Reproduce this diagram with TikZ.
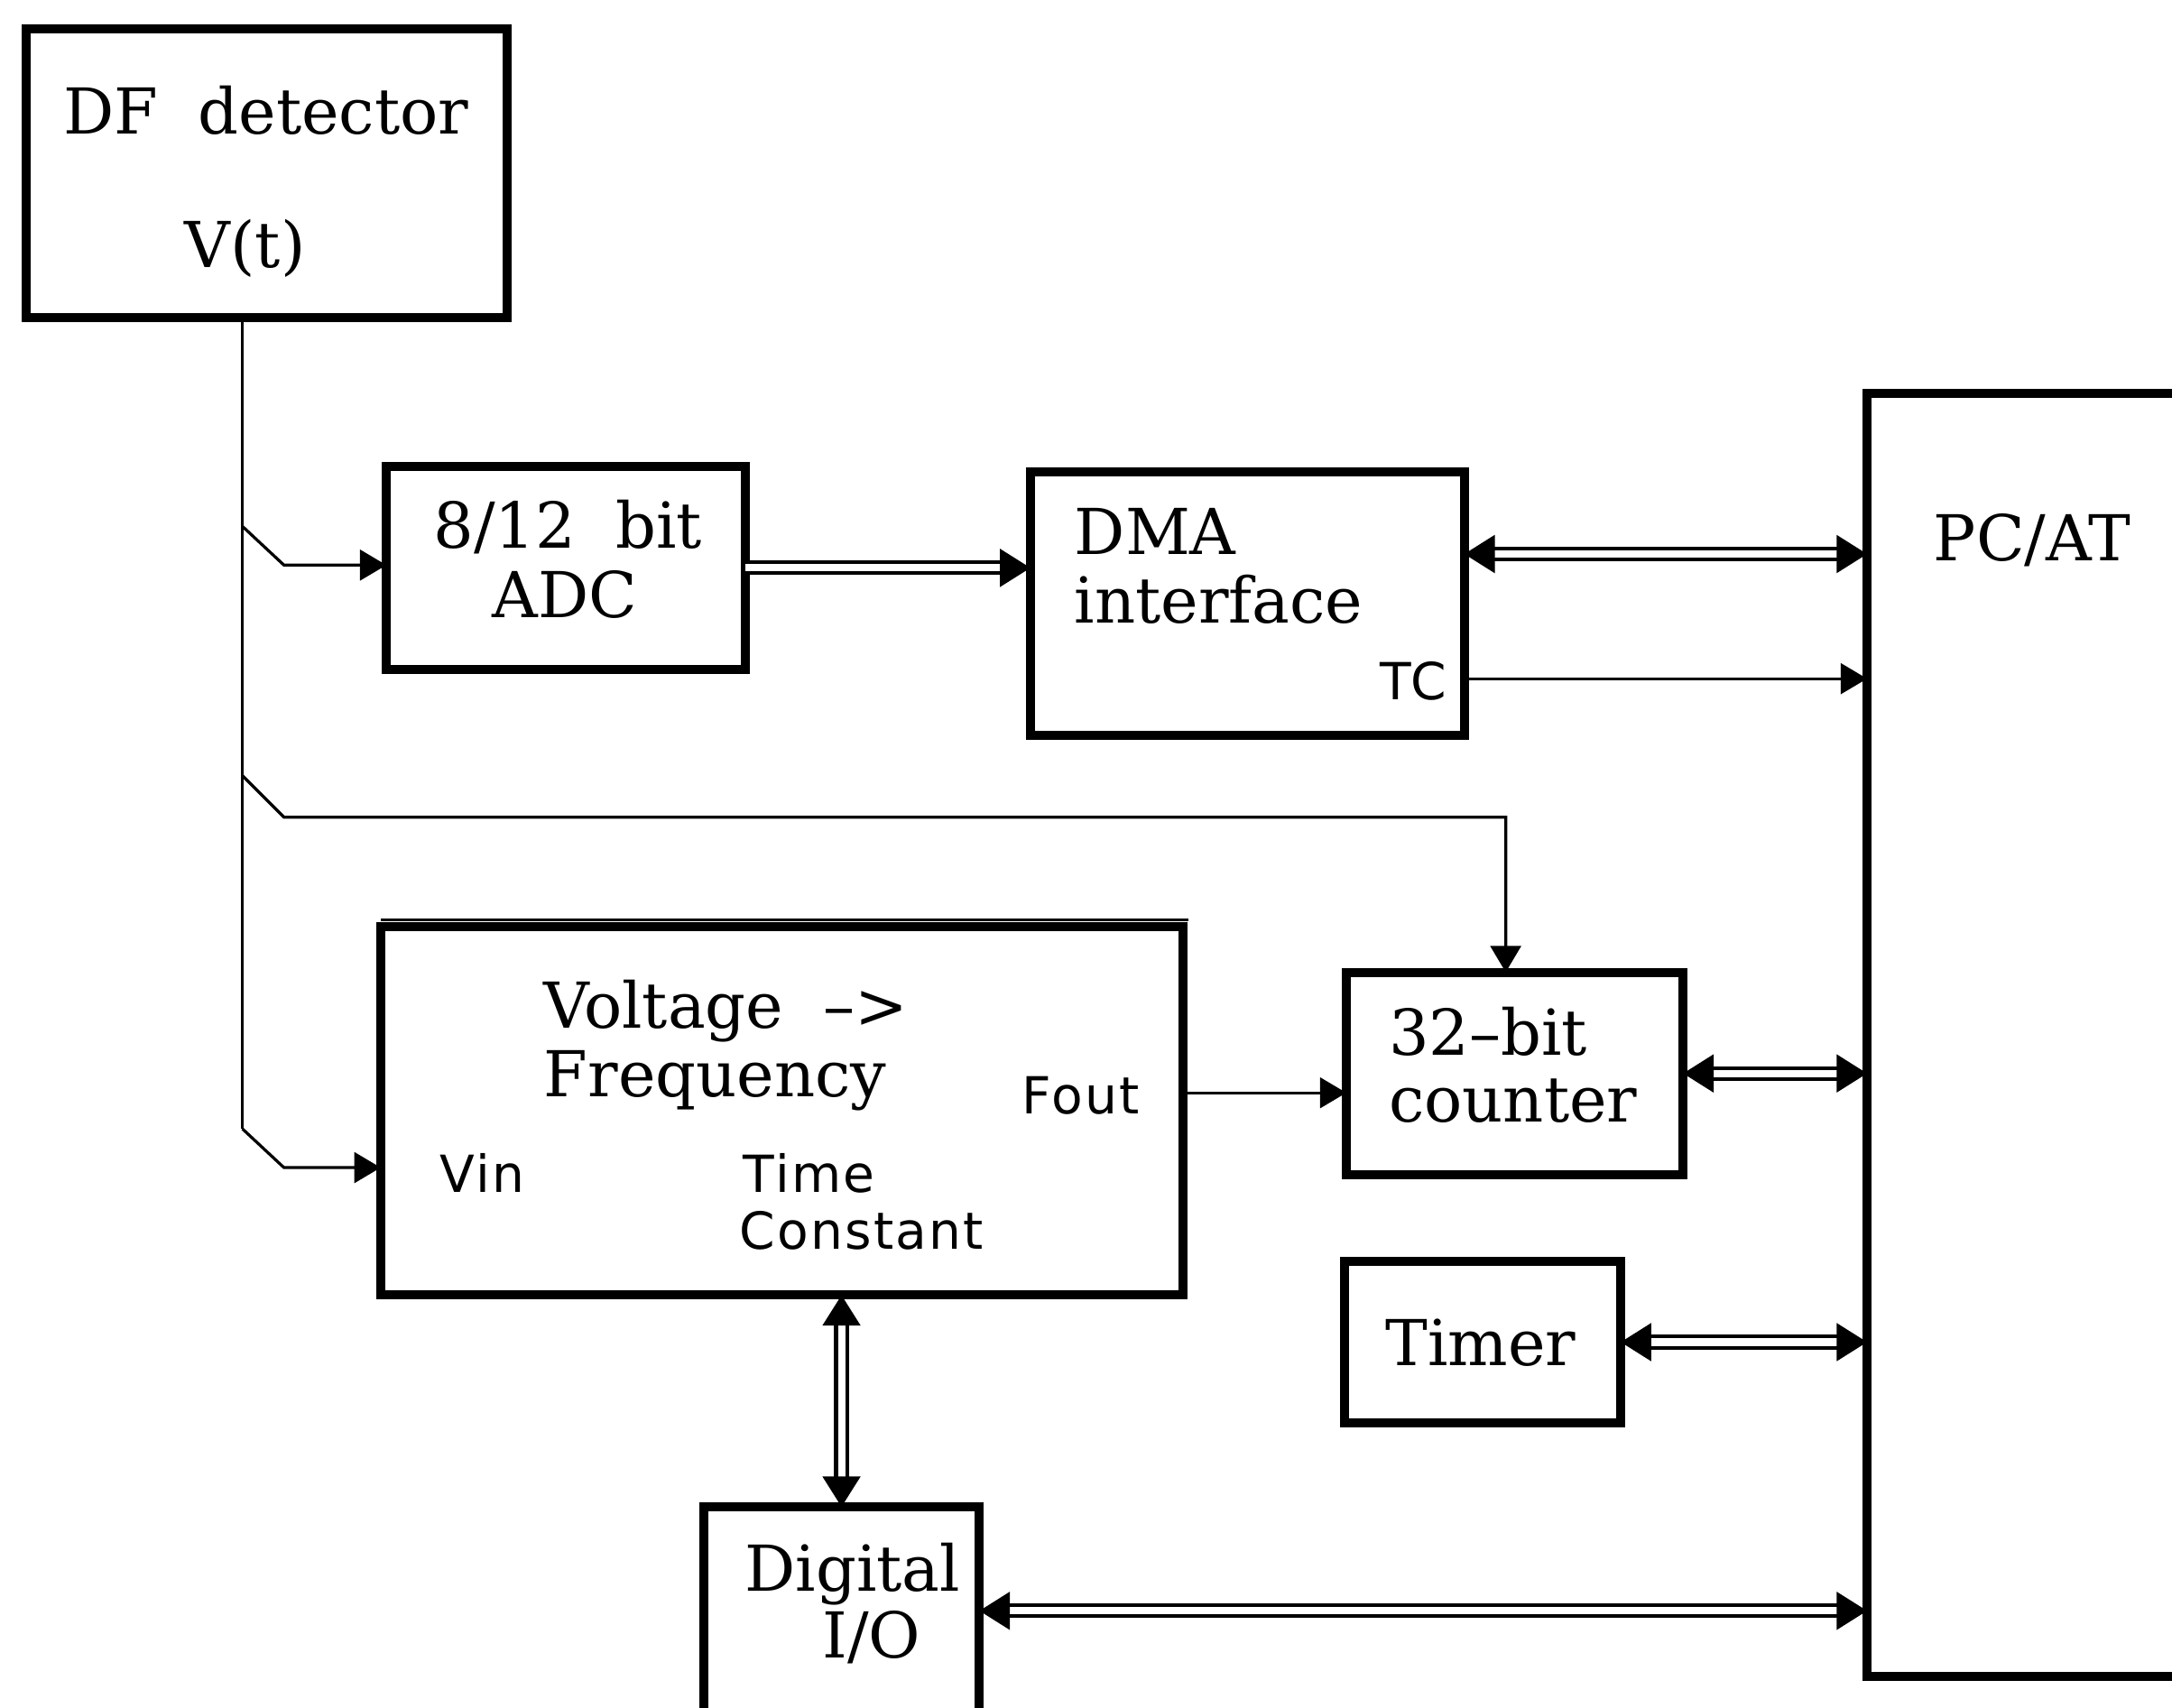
\documentclass[tikz,border=0pt]{standalone}
\usepackage{fontspec}
\setmainfont{DejaVu Serif}
\newfontfamily\labfont[LetterSpace=4]{DejaVu Sans}
\usetikzlibrary{arrows.meta}

\begin{document}
\begin{tikzpicture}[x=0.01cm,y=-0.01cm,
  box/.style={draw, line width=1.85pt, inner sep=0pt, outer sep=0pt},
  big/.style={inner sep=0pt, font=\fontsize{13}{15}\selectfont},
  small/.style={inner sep=0pt, font=\labfont\fontsize{10.5}{12}\selectfont},
  sig/.style={line width=0.6pt, -{Triangle[length=0.19cm,width=0.22cm]}},
  bus/.style={line width=0.75pt, double, double distance=1.5pt},
  busone/.style={bus, -{Triangle[length=0.22cm,width=0.27cm]}},
  bustwo/.style={bus, {Triangle[length=0.22cm,width=0.27cm]}-{Triangle[length=0.22cm,width=0.27cm]}}]

% page frame
\fill[white] (0,0) rectangle (1568,1233);
\clip (0,0) rectangle (1568,1233);

% blocks
\node[box, minimum width=3.47cm, minimum height=2.08cm] (df)  at (192.5,125) {};
\node[box, minimum width=2.59cm, minimum height=1.46cm] (adc) at (408.5,410) {};
\node[box, minimum width=3.13cm, minimum height=1.90cm] (dma) at (900.5,436) {};
\node[box, minimum width=3.52cm, minimum height=9.26cm] (pc)  at (1524,747) {};
\node[box, minimum width=5.79cm, minimum height=2.66cm] (vf)  at (564.5,802) {};
\node[box, minimum width=2.43cm, minimum height=1.46cm] (cnt) at (1093.5,775) {};
\node[box, minimum width=1.99cm, minimum height=1.16cm] (tmr) at (1070.5,969) {};
\node[box, minimum width=1.99cm, minimum height=1.92cm] (dio) at (607.5,1184) {};
\draw[line width=0.5pt] ([yshift=0.05cm]vf.north west) -- ([xshift=0.04cm,yshift=0.05cm]vf.north east);

% block texts
\node[big, anchor=base] (dft) at (192,97) {DF\ \ detector};
\node[big, anchor=base] (vt)  at (177,193) {V(t)};
\node[big, anchor=base] (adct1) at (410,396) {8/12\ \ bit};
\node[big, anchor=base] (adct2) at (408,446) {ADC};
\node[big, anchor=base west] (dmat1) at (775,400) {DMA};
\node[big, anchor=base west] (dmat2) at (775,450) {interface};
\node[small, anchor=base east] (tc) at (1045,505) {TC};
\node[big, anchor=base] (pct) at (1467,405) {PC/AT};
\node[big, anchor=base west] (vft1) at (392,742) {Voltage\ \ \textendash>};
\node[big, anchor=base west] (vft2) at (392,792) {Frequency};
\node[small, anchor=base west] (fout) at (737,804) {Fout};
\node[small, anchor=base west] (vin) at (317,861) {Vin};
\node[small, anchor=base west] (tc1) at (536,861) {Time};
\node[small, anchor=base west] (tc2) at (533,902) {Constant};
\node[big, anchor=base west] (cntt1) at (1002,762) {32\textendash bit};
\node[big, anchor=base west] (cntt2) at (1002,810) {counter};
\node[big, anchor=base] (tmrt) at (1069,986) {Timer};
\node[big, anchor=base west] (diot1) at (537,1149) {Digital};
\node[big, anchor=base west] (diot2) at (593,1197) {I/O};

% signal path from the detector output
\coordinate (trunk) at (175,0);
\coordinate (ka) at (175,380);
\coordinate (kb) at (175,560);
\coordinate (kc) at (175,815);
\coordinate (ya) at (205,408);
\coordinate (yb) at (205,590);
\coordinate (yc) at (205,843);
\coordinate (cdrop) at (1087,590);

\draw[line width=0.6pt] (df.south -| trunk) -- (kc);
\draw[sig] (kc) -- (yc) -- (vf.west |- yc);
\draw[sig] (ka) -- (ya) -- (adc.west |- ya);
\draw[sig] (kb) -- (yb) -- (cdrop) -- (cdrop |- cnt.north);

% data paths
\coordinate (ydma) at (0,400);
\coordinate (ytc) at (0,490);
\coordinate (yf) at (0,789);
\coordinate (ydio) at (0,1163);

\draw[busone] (adc.east) -- (dma.west |- adc.east);
\draw[bustwo] (dma.east |- ydma) -- (pc.west |- ydma);
\draw[sig] (dma.east |- ytc) -- (pc.west |- ytc);
\draw[sig] (vf.east |- yf) -- (cnt.west |- yf);
\draw[bustwo] (cnt.east) -- (pc.west |- cnt.east);
\draw[bustwo] (tmr.east) -- (pc.west |- tmr.east);
\draw[bustwo] (vf.south -| dio.north) -- (dio.north);
\draw[bustwo] (dio.east |- ydio) -- (pc.west |- ydio);
\end{tikzpicture}
\end{document}
